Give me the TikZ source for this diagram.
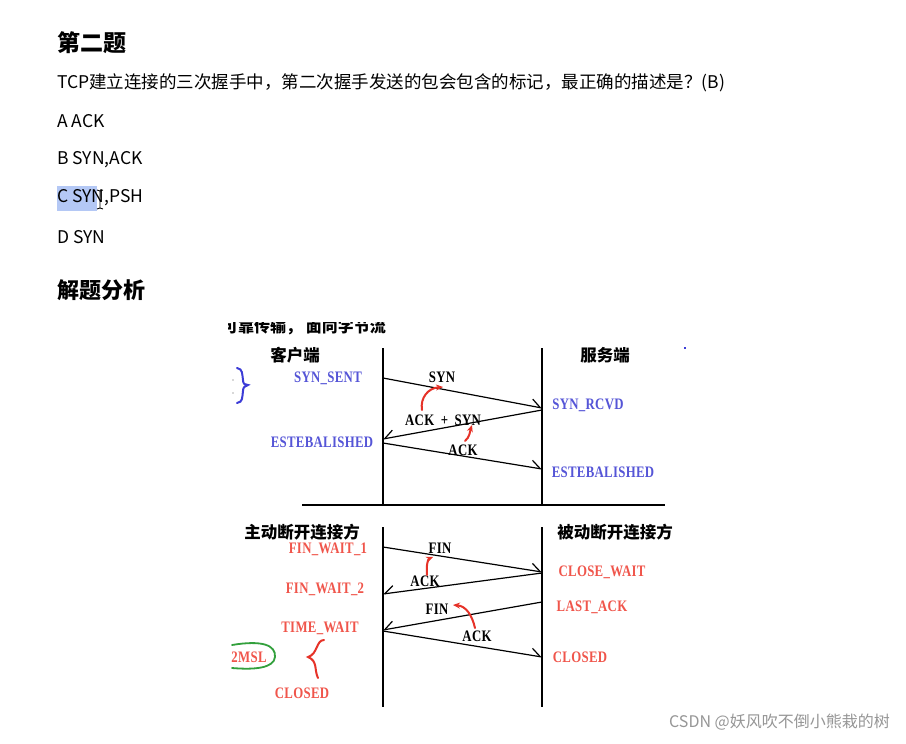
\documentclass[tikz,border=0pt]{standalone}
\usepackage{fontspec}
\setmainfont{Noto Sans CJK SC}
\newfontfamily\monof[FakeStretch=0.8,LetterSpace=2]{Liberation Serif}
\usetikzlibrary{arrows.meta}
\definecolor{stblue}{RGB}{85,85,215}
\definecolor{stred}{RGB}{240,85,75}
\definecolor{penred}{RGB}{230,50,40}
\definecolor{penblue}{RGB}{60,60,215}
\definecolor{pengreen}{RGB}{50,160,60}
\definecolor{hl}{RGB}{180,200,245}
\definecolor{wm}{RGB}{150,150,150}
\begin{document}
\begin{tikzpicture}[x=1pt,y=-1pt,
  txt/.style={inner sep=0pt, anchor=west, font=\fontsize{17.5}{20}\selectfont},
  head/.style={inner sep=0pt, anchor=west, font=\fontsize{22}{26}\selectfont\bfseries},
  cjklab/.style={inner sep=0pt, font=\fontsize{16.5}{19}\selectfont\bfseries},
  lab/.style={inner sep=0pt, font=\monof\bfseries\fontsize{16}{18}\selectfont},
  blab/.style={lab, text=stblue},
  rlab/.style={lab, text=stred},
  life/.style={line width=1.3pt, black},
  msgr/.style={line width=1.2pt, -{Straight Barb[left, length=9pt, width=14pt]}},
  msgl/.style={line width=1.2pt, -{Straight Barb[right, length=9pt, width=14pt]}},
  pen/.style={penred, line width=2pt, line cap=round, -{Stealth[length=7pt,width=6pt]}},
]
\useasboundingbox (0,0) rectangle (906,744);
\fill[white] (0,0) rectangle (906,744);

% ---------- question text ----------
\node[head, font=\fontsize{23}{26}\selectfont\bfseries] (t1) at (57,43) {第二题};
\node[txt] (q) at (57,83) {TCP建立连接的三次握手中，第二次握手发送的包会包含的标记，最正确的描述是？(B)};
\node[txt] (oa) at (57,121) {A ACK};
\node[txt] (ob) at (57,160) {B SYN,ACK};
\fill[hl] (57,186) rectangle (97,211);
\node[txt] (oc) at (57,198) {C SYN,PSH};
\draw[line width=0.9pt] (97,190) -- (100,191) -- (103,190) (100,191) -- (100,208) (97,209) -- (100,208) -- (103,209);
\node[txt] (od) at (57,237) {D SYN};
\node[head] (t2) at (57,290) {解题分析};

% ---------- cut-off line of the screenshot ----------
\begin{scope}
\clip (228,322.5) rectangle (420,340);
\node[inner sep=0pt, anchor=west, font=\fontsize{16}{18}\selectfont\bfseries] (cut) at (222,327) {可靠传输，\ 面向字节流};
\end{scope}

% ---------- coordinates ----------
\coordinate (L1t) at (383,348); \coordinate (L1b) at (383,505);
\coordinate (R1t) at (542,348); \coordinate (R1b) at (542,505);
\coordinate (L2t) at (383,527); \coordinate (L2b) at (383,707);
\coordinate (R2t) at (542,527); \coordinate (R2b) at (542,707);
\coordinate (H1) at (302,505); \coordinate (H2) at (665,505);

\coordinate (a1s) at (383,378); \coordinate (a1e) at (542,408);
\coordinate (a2s) at (542,410); \coordinate (a2e) at (383,439);
\coordinate (a3s) at (383,443); \coordinate (a3e) at (542,469);
\coordinate (b1s) at (383,547); \coordinate (b1e) at (542,572);
\coordinate (b2s) at (542,573); \coordinate (b2e) at (383,594);
\coordinate (b3s) at (542,602); \coordinate (b3e) at (383,630);
\coordinate (b4s) at (383,631); \coordinate (b4e) at (542,657);

% lifelines
\draw[life] (L1t) -- (L1b);
\draw[life] (R1t) -- (R1b);
\draw[life] (L2t) -- (L2b);
\draw[life] (R2t) -- (R2b);
\draw[life] (H1) -- (H2);

% ---------- handshake ----------
\node[cjklab] (cli) at (295,355) {客户端};
\node[cjklab] (srv) at (605,355) {服务端};
\fill[penblue] (684,347) rectangle (686,349);

\node[blab] (s1) at (328,378) {SYN\_SENT};
\node[blab] (s2) at (588,405) {SYN\_RCVD};
\node[blab] (s3) at (322,442) {ESTEBALISHED};
\node[blab] (s4) at (603,472) {ESTEBALISHED};

\draw[msgr] (a1s) -- (a1e);
\draw[msgl] (a2s) -- (a2e);
\draw[msgr] (a3s) -- (a3e);

\node[lab] (m1) at (442,377) {SYN};
\node[lab] (m2) at (443,420) {ACK\hspace{3pt} + \hspace{3pt}SYN};
\node[lab] (m3) at (463,450) {ACK};

\coordinate (p1s) at (422,410); \coordinate (p1e) at (443,387);
\draw[pen] (p1s) .. controls (420,398) and (428,388) .. (p1e);
\coordinate (p2s) at (465,441); \coordinate (p2e) at (472,425);
\draw[pen] (p2s) .. controls (470,437) and (470,431) .. (p2e);

% blue brace
\draw[penblue, line width=2pt, line cap=round] (237,368) .. controls (243,369) and (242,374) .. (243,380) .. controls (243,384) and (245,385) .. (248,385) .. controls (245,386) and (243,387) .. (243,391) .. controls (242,398) and (243,402) .. (237,403);
\fill[gray!60] (233,380) circle (0.8) (233,393) circle (0.8);

% ---------- teardown ----------
\node[cjklab] (act) at (302,532) {主动断开连接方};
\node[cjklab] (pas) at (615,532) {被动断开连接方};

\node[rlab] (f1) at (328,549) {FIN\_WAIT\_1};
\node[rlab] (f2) at (325,589) {FIN\_WAIT\_2};
\node[rlab] (f3) at (320,628) {TIME\_WAIT};
\node[rlab] (f4) at (302,693) {CLOSED};
\node[rlab] (g1) at (602,572) {CLOSE\_WAIT};
\node[rlab] (g2) at (592,607) {LAST\_ACK};
\node[rlab] (g3) at (580,657) {CLOSED};

\draw[msgr] (b1s) -- (b1e);
\draw[msgl] (b2s) -- (b2e);
\draw[msgl] (b3s) -- (b3e);
\draw[msgr] (b4s) -- (b4e);

\node[lab] (n1) at (440,548) {FIN};
\node[lab] (n2) at (425,581) {ACK};
\node[lab] (n3) at (437,609) {FIN};
\node[lab] (n4) at (477,636) {ACK};

\coordinate (p3s) at (427,575); \coordinate (p3e) at (433,557);
\draw[pen] (p3s) .. controls (426,566) and (428,559) .. (p3e);
\coordinate (p4s) at (475,628); \coordinate (p4e) at (453,605);
\draw[pen] (p4s) .. controls (472,615) and (466,606) .. (p4e);

% red brace
\draw[penred, line width=2pt, line cap=round] (324,640) .. controls (316,640) and (318,654) .. (308,657) .. controls (318,661) and (314,670) .. (318,678);

% 2MSL
\node[rlab] (msl) at (249,657) {2MSL};
\draw[pengreen, line width=1.8pt, line cap=round] (232,645) .. controls (262,640) and (276,645) .. (275,657) .. controls (274,668) and (255,670) .. (232,668);

% ---------- watermark ----------
\node[inner sep=0pt, anchor=east, text=wm, font=\fontsize{16}{18}\selectfont] (wmk) at (890,722) {CSDN @妖风吹不倒小熊栽的树};
\end{tikzpicture}
\end{document}
